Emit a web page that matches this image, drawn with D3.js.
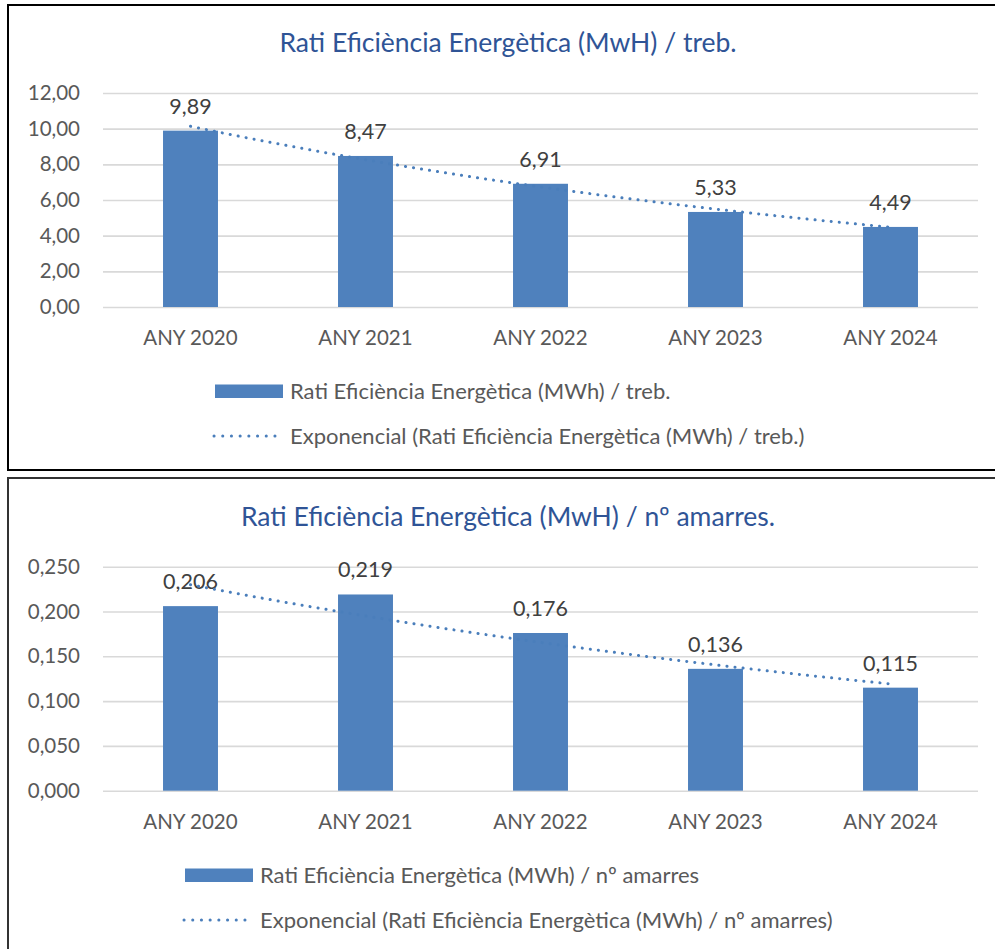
<!DOCTYPE html>
<html><head><meta charset="utf-8">
<script src="https://cdn.jsdelivr.net/npm/d3@7"></script>
<style>html,body{margin:0;padding:0;background:#fff;}svg{display:block;}</style>
</head><body>
<svg id="c" width="995" height="949"></svg>
<script>
const categories = ["ANY 2020", "ANY 2021", "ANY 2022", "ANY 2023", "ANY 2024"];
const ratioTreb = [9.89, 8.47, 6.91, 5.33, 4.49];
const ratioAmarres = [0.206, 0.219, 0.176, 0.136, 0.115];
const ticksTreb = [0, 2, 4, 6, 8, 10, 12];
const ticksAmarres = [0, 0.05, 0.10, 0.15, 0.20, 0.25];
const titleTreb = "Rati Eficiència Energètica (MwH) / treb.";
const titleAmarres = "Rati Eficiència Energètica (MwH) / nº amarres.";
const legendBarTreb = "Rati Eficiència Energètica (MWh) / treb.";
const legendTrendTreb = "Exponencial (Rati Eficiència Energètica (MWh) / treb.)";
const legendBarAmarres = "Rati Eficiència Energètica (MWh) / nº amarres";
const legendTrendAmarres = "Exponencial (Rati Eficiència Energètica (MWh) / nº amarres)";

const FONT = "Lato, 'Open Sans', sans-serif";
const BAR = "#4F81BD";
const TREND = "#4A7EBB";
const svg = d3.select("#c");
const loc = d3.formatLocale({decimal: ",", thousands: ".", grouping: [3], currency: ["", "€"]});

// panel borders
svg.append("path").attr("d", "M995,5H8V470H995").attr("fill", "none").attr("stroke", "#000").attr("stroke-width", 2);
svg.append("path").attr("d", "M995,478H8V949").attr("fill", "none").attr("stroke", "#333").attr("stroke-width", 2);

function expFit(vals) {
  const xs = vals.map((_, i) => i + 1), ls = vals.map(v => Math.log(v));
  const mx = d3.mean(xs), ml = d3.mean(ls);
  const b = d3.sum(xs, (x, i) => (x - mx) * (ls[i] - ml)) / d3.sum(xs, x => (x - mx) * (x - mx));
  const a = Math.exp(ml - b * mx);
  return x => a * Math.exp(b * x);
}

function drawChart(o) {
  const g = svg.append("g");
  const x = d3.scaleBand().domain(categories).range([103, 978]).paddingInner(0.686).paddingOuter(0.343);
  const y = d3.scaleLinear().domain(o.domain).range([o.y0, o.y1]);

  // title
  g.append("text").attr("x", 508).attr("y", o.titleY).attr("text-anchor", "middle")
    .attr("font-family", FONT).attr("font-size", 26.5).attr("fill", "#2F5496").text(o.title);

  // y axis with gridlines
  const ya = g.append("g").attr("transform", "translate(103,0)")
    .call(d3.axisLeft(y).tickValues(o.ticks).tickFormat(loc.format(o.fmt)).tickSize(-875).tickPadding(23));
  ya.select(".domain").remove();
  ya.selectAll(".tick line").attr("stroke", "#D9D9D9").attr("stroke-width", 1.6);
  ya.selectAll(".tick text").attr("font-family", FONT).attr("font-size", 20.5).attr("fill", "#595959");

  // bars
  g.selectAll("rect.bar").data(o.values).join("rect").attr("class", "bar")
    .attr("x", (d, i) => x(categories[i])).attr("width", x.bandwidth())
    .attr("y", d => y(d)).attr("height", d => y(0) - y(d)).attr("fill", BAR);

  // category labels
  g.selectAll("text.cat").data(categories).join("text").attr("class", "cat")
    .attr("x", d => x(d) + x.bandwidth() / 2).attr("y", o.y0 + 38).attr("text-anchor", "middle")
    .attr("font-family", FONT).attr("font-size", 20.5).attr("fill", "#595959").text(d => d);

  // value labels
  g.selectAll("text.val").data(o.values).join("text").attr("class", "val")
    .attr("x", (d, i) => x(categories[i]) + x.bandwidth() / 2).attr("y", d => y(d) - 17)
    .attr("text-anchor", "middle").attr("font-family", FONT).attr("font-size", 21.5).attr("fill", "#404040")
    .text(d => loc.format(o.fmt)(d));

  // exponential trendline
  const f = expFit(o.values);
  const c0 = x(categories[0]) + x.bandwidth() / 2, c1 = x(categories[categories.length - 1]) + x.bandwidth() / 2;
  const xi = d3.scaleLinear().domain([1, categories.length]).range([c0, c1]);
  const pts = d3.range(1, categories.length + 0.001, 0.05);
  g.append("path").datum(pts).attr("fill", "none").attr("stroke", TREND).attr("stroke-width", 3)
    .attr("stroke-linecap", "round").attr("stroke-dasharray", "0.1 8")
    .attr("d", d3.line().x(t => xi(t)).y(t => y(f(t))));

  // legend
  g.append("rect").attr("x", o.legX).attr("y", o.legY - 6.5).attr("width", 68).attr("height", 13.5).attr("fill", BAR);
  g.append("text").attr("x", o.legX + 75).attr("y", o.legY + 7.5).attr("font-family", FONT).attr("font-size", 22)
    .attr("fill", "#595959").text(o.legBar);
  g.append("line").attr("x1", o.legX - 1).attr("x2", o.legX + 68).attr("y1", o.legY + 45).attr("y2", o.legY + 45)
    .attr("stroke", TREND).attr("stroke-width", 3).attr("stroke-linecap", "round").attr("stroke-dasharray", "0.1 8.6");
  g.append("text").attr("x", o.legX + 75).attr("y", o.legY + 52.5).attr("font-family", FONT).attr("font-size", 22)
    .attr("fill", "#595959").text(o.legTrend);
}

drawChart({title: titleTreb, titleY: 52, domain: [0, 12], y0: 307, y1: 93, ticks: ticksTreb, fmt: ".2f",
  values: ratioTreb, legX: 215, legY: 391, legBar: legendBarTreb, legTrend: legendTrendTreb});
drawChart({title: titleAmarres, titleY: 526, domain: [0, 0.25], y0: 790.7, y1: 566.7, ticks: ticksAmarres, fmt: ".3f",
  values: ratioAmarres, legX: 185, legY: 875, legBar: legendBarAmarres, legTrend: legendTrendAmarres});
</script>
</body></html>
